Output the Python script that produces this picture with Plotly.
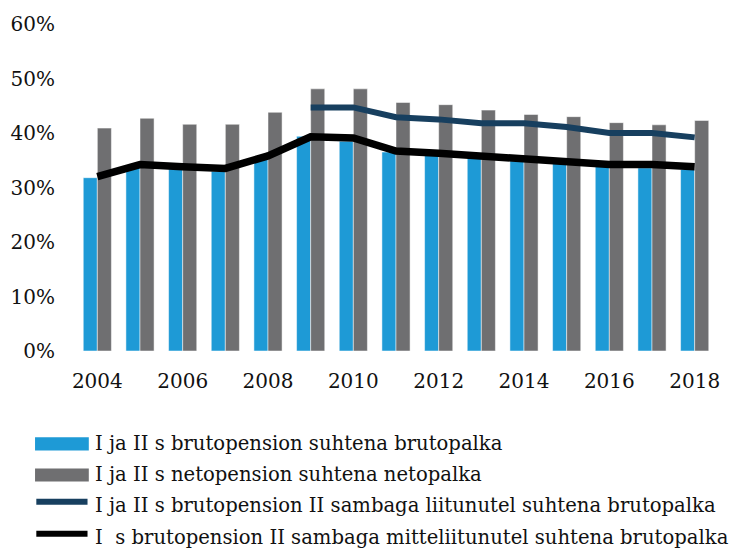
import plotly.graph_objects as go

years = list(range(2004, 2019))

# I ja II s brutopension suhtena brutopalka (%)
gross_ratio = [31.8, 34.0, 33.4, 33.0, 35.5, 39.4, 38.5, 36.5, 35.9, 35.5, 34.9, 34.5, 33.9, 33.6, 33.3]
# I ja II s netopension suhtena netopalka (%)
net_ratio = [40.9, 42.7, 41.6, 41.6, 43.8, 48.1, 48.1, 45.6, 45.2, 44.2, 43.4, 43.0, 41.9, 41.5, 42.3]
# II sambaga liitunud (2009-2018)
joined_years = list(range(2009, 2019))
joined_ratio = [44.7, 44.7, 42.9, 42.5, 41.8, 41.8, 41.1, 40.0, 40.0, 39.2]
# II sambaga mitteliitunud
not_joined_ratio = [32.0, 34.2, 33.8, 33.5, 35.8, 39.3, 39.1, 36.7, 36.3, 35.8, 35.3, 35.0, 34.2, 34.2, 33.8]

names = [
    "I ja II s brutopension suhtena brutopalka",
    "I ja II s netopension suhtena netopalka",
    "I ja II s brutopension II sambaga liitunutel suhtena brutopalka",
    "I  s brutopension II sambaga mitteliitunutel suhtena brutopalka",
]
colors = ["#1e9ad6", "#6f6f71", "#173f5f", "#000000"]

FONT = "DejaVu Serif"

fig = go.Figure()
fig.add_trace(go.Bar(x=years, y=gross_ratio, name=names[0], marker_color=colors[0],
                     marker_line=dict(color="white", width=0.5)))
fig.add_trace(go.Bar(x=years, y=net_ratio, name=names[1], marker_color=colors[1],
                     marker_line=dict(color="white", width=0.5)))
fig.add_trace(go.Scatter(x=joined_years, y=joined_ratio, name=names[2], mode="lines",
                         line=dict(color=colors[2], width=6)))
fig.add_trace(go.Scatter(x=years, y=not_joined_ratio, name=names[3], mode="lines",
                         line=dict(color=colors[3], width=7.5)))

# hand-drawn legend below the plot (wide swatches like the original)
legend_rows = [-0.284, -0.379, -0.471, -0.569]
for i, (name, col) in enumerate(zip(names, colors)):
    yy = legend_rows[i]
    if i < 2:
        fig.add_shape(type="rect", xref="paper", yref="paper",
                      x0=-0.064, x1=0.02, y0=yy - 0.02, y1=yy + 0.02,
                      fillcolor=col, line_width=0)
    else:
        fig.add_shape(type="line", xref="paper", yref="paper",
                      x0=-0.062, x1=0.018, y0=yy + 0.01, y1=yy + 0.01,
                      line=dict(color=col, width=6))
    fig.add_annotation(text=name, xref="paper", yref="paper", x=0.026, y=yy,
                       xanchor="left", yanchor="middle", showarrow=False,
                       font=dict(family=FONT, size=19.6, color="#111"))

# page body adds 8px around the figure, so the figure is 8px smaller
fig.update_layout(
    width=742, height=545,
    margin=dict(l=68, r=34, t=16, b=202),
    barmode="group", bargap=0.34, bargroupgap=0,
    plot_bgcolor="white", paper_bgcolor="white",
    showlegend=False,
    font=dict(family=FONT, size=20, color="#111"),
)
fig.update_xaxes(range=[2003.5, 2018.5], tickvals=list(range(2004, 2019, 2)),
                 showgrid=False, showline=False, ticks="", ticklabelstandoff=16,
                 automargin=False)
fig.update_yaxes(range=[0, 60], dtick=10, ticksuffix="%", showgrid=False,
                 zeroline=False, showline=False, ticks="", ticklabelstandoff=20,
                 automargin=False)

fig.write_html("out.html")
